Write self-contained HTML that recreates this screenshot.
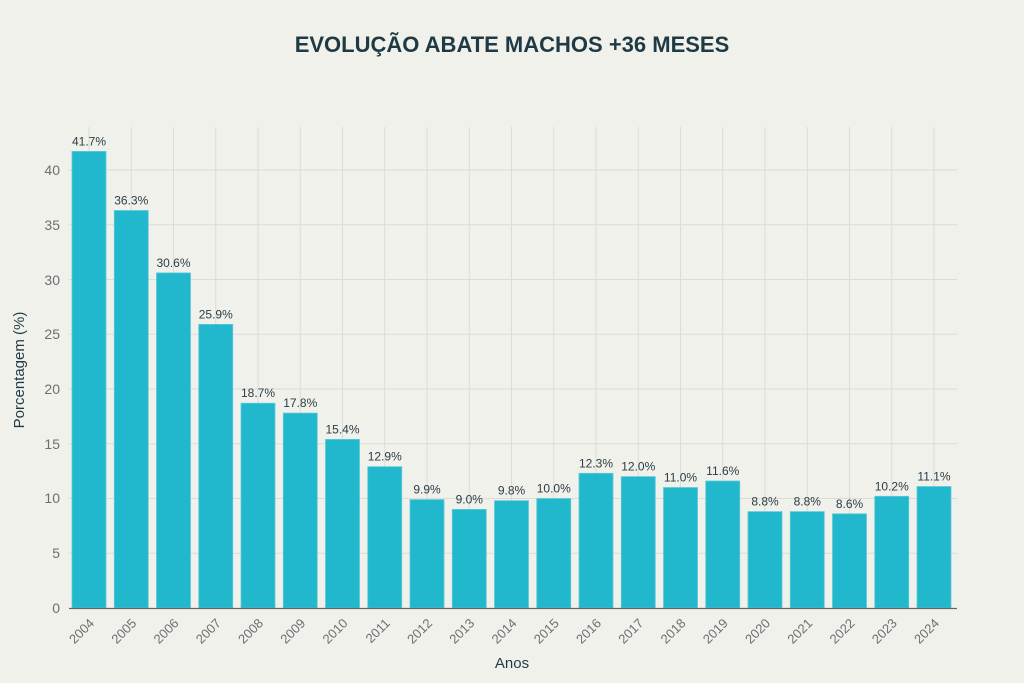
<!DOCTYPE html>
<html><head><meta charset="utf-8"><style>
html,body{margin:0;padding:0;background:#f1f1ec;}
svg{display:block;font-family:"Liberation Sans",sans-serif;}
</style></head><body>
<svg width="1024" height="683" viewBox="0 0 1024 683" xmlns="http://www.w3.org/2000/svg">
<rect width="1024" height="683" fill="#f1f1ec"/>
<text x="512" y="52" text-anchor="middle" font-size="22" font-weight="bold" fill="#1f3a44">EVOLUÇÃO ABATE MACHOS +36 MESES</text>
<g stroke="#dcdcd4" stroke-width="1">
<path d="M69 553.25H957M69 498.5H957M69 443.75H957M69 389H957M69 334.25H957M69 279.5H957M69 224.75H957M69 170H957"/>
<path d="M89 127V608M131.25 127V608M173.5 127V608M215.75 127V608M258 127V608M300.25 127V608M342.5 127V608M384.75 127V608M427 127V608M469.25 127V608M511.5 127V608M553.75 127V608M596 127V608M638.25 127V608M680.5 127V608M722.75 127V608M765 127V608M807.25 127V608M849.5 127V608M891.75 127V608M934 127V608"/>
</g>
<g font-size="14" fill="#6b6f72" text-anchor="end">
<text x="60" y="613">0</text><text x="60" y="558">5</text><text x="60" y="503">10</text><text x="60" y="449">15</text><text x="60" y="394">20</text><text x="60" y="339">25</text><text x="60" y="285">30</text><text x="60" y="230">35</text><text x="60" y="175">40</text>
</g>
<g fill="#21b8cd" stroke="#5fc9d8" stroke-width="0.8">
<rect x="72" y="151.4" width="34" height="456.6"/>
<rect x="114.25" y="210.5" width="34" height="397.5"/>
<rect x="156.5" y="272.9" width="34" height="335.1"/>
<rect x="198.75" y="324.4" width="34" height="283.6"/>
<rect x="241" y="403.2" width="34" height="204.8"/>
<rect x="283.25" y="413.1" width="34" height="194.9"/>
<rect x="325.5" y="439.4" width="34" height="168.6"/>
<rect x="367.75" y="466.7" width="34" height="141.3"/>
<rect x="410" y="499.6" width="34" height="108.4"/>
<rect x="452.25" y="509.4" width="34" height="98.6"/>
<rect x="494.5" y="500.7" width="34" height="107.3"/>
<rect x="536.75" y="498.5" width="34" height="109.5"/>
<rect x="579" y="473.3" width="34" height="134.7"/>
<rect x="621.25" y="476.6" width="34" height="131.4"/>
<rect x="663.5" y="487.5" width="34" height="120.5"/>
<rect x="705.75" y="481" width="34" height="127"/>
<rect x="748" y="511.6" width="34" height="96.4"/>
<rect x="790.25" y="511.6" width="34" height="96.4"/>
<rect x="832.5" y="513.8" width="34" height="94.2"/>
<rect x="874.75" y="496.3" width="34" height="111.7"/>
<rect x="917" y="486.5" width="34" height="121.5"/>
</g>
<g font-size="12" fill="#2a3d45" text-anchor="middle">
<text x="89" y="145.4">41.7%</text>
<text x="131.25" y="204.5">36.3%</text>
<text x="173.5" y="266.9">30.6%</text>
<text x="215.75" y="318.4">25.9%</text>
<text x="258" y="397.2">18.7%</text>
<text x="300.25" y="407.1">17.8%</text>
<text x="342.5" y="433.4">15.4%</text>
<text x="384.75" y="460.7">12.9%</text>
<text x="427" y="493.6">9.9%</text>
<text x="469.25" y="503.4">9.0%</text>
<text x="511.5" y="494.7">9.8%</text>
<text x="553.75" y="492.5">10.0%</text>
<text x="596" y="467.3">12.3%</text>
<text x="638.25" y="470.6">12.0%</text>
<text x="680.5" y="481.5">11.0%</text>
<text x="722.75" y="475">11.6%</text>
<text x="765" y="505.6">8.8%</text>
<text x="807.25" y="505.6">8.8%</text>
<text x="849.5" y="507.8">8.6%</text>
<text x="891.75" y="490.3">10.2%</text>
<text x="934" y="480.5">11.1%</text>
</g>
<line x1="69" x2="957" y1="608.5" y2="608.5" stroke="#666" stroke-width="1.2"/>
<g font-size="13" fill="#6b6f72" text-anchor="end">
<text transform="translate(95 624) rotate(-45)">2004</text>
<text transform="translate(137.25 624) rotate(-45)">2005</text>
<text transform="translate(179.5 624) rotate(-45)">2006</text>
<text transform="translate(221.75 624) rotate(-45)">2007</text>
<text transform="translate(264 624) rotate(-45)">2008</text>
<text transform="translate(306.25 624) rotate(-45)">2009</text>
<text transform="translate(348.5 624) rotate(-45)">2010</text>
<text transform="translate(390.75 624) rotate(-45)">2011</text>
<text transform="translate(433 624) rotate(-45)">2012</text>
<text transform="translate(475.25 624) rotate(-45)">2013</text>
<text transform="translate(517.5 624) rotate(-45)">2014</text>
<text transform="translate(559.75 624) rotate(-45)">2015</text>
<text transform="translate(602 624) rotate(-45)">2016</text>
<text transform="translate(644.25 624) rotate(-45)">2017</text>
<text transform="translate(686.5 624) rotate(-45)">2018</text>
<text transform="translate(728.75 624) rotate(-45)">2019</text>
<text transform="translate(771 624) rotate(-45)">2020</text>
<text transform="translate(813.25 624) rotate(-45)">2021</text>
<text transform="translate(855.5 624) rotate(-45)">2022</text>
<text transform="translate(897.75 624) rotate(-45)">2023</text>
<text transform="translate(940 624) rotate(-45)">2024</text>
</g>
<text x="24" y="370" transform="rotate(-90 24 370)" text-anchor="middle" font-size="15" fill="#1f3a44">Porcentagem (%)</text>
<text x="512" y="668" text-anchor="middle" font-size="15" fill="#1f3a44">Anos</text>
</svg>
</body></html>
